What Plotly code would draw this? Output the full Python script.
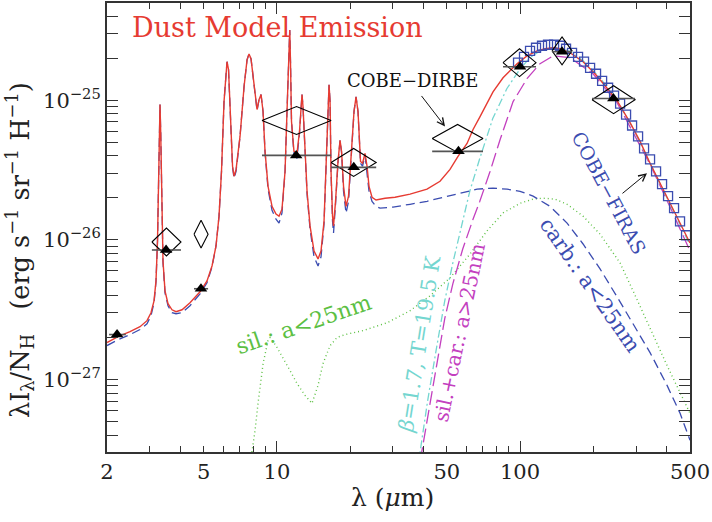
import plotly.graph_objects as go

# ---------------- data ----------------
# total dust model emission (lambda in micron, lambda*I_lambda/N_H in erg s^-1 sr^-1 H^-1)
total_lam = [2.000, 2.220, 2.487, 2.734, 2.921, 3.034, 3.122, 3.181, 3.227, 3.257, 3.282, 3.304,
             3.326, 3.351, 3.399, 3.464, 3.564, 3.702, 3.845, 4.070, 4.389, 4.827, 5.157, 5.407,
             5.616, 5.778, 5.916, 6.058, 6.174, 6.233, 6.322, 6.444, 6.568, 6.662, 6.790, 7.050,
             7.323, 7.534, 7.678, 7.825, 8.050, 8.204, 8.282, 8.440, 8.602, 8.767, 8.935, 9.192,
             9.546, 9.913, 10.20, 10.49, 10.80, 11.00, 11.11, 11.21, 11.29, 11.37, 11.48, 11.75,
             12.09, 12.38, 12.56, 12.68, 12.80, 13.05, 13.30, 13.68, 14.21, 14.76, 15.18, 15.62,
             15.92, 16.15, 16.38, 16.54, 16.69, 16.93, 17.09, 17.42, 17.83, 18.18, 18.44, 18.79,
             19.24, 19.70, 20.27, 20.75, 21.15, 21.55, 22.07, 22.49, 23.03, 23.48, 23.92, 24.61,
             25.56, 27.84, 30.60, 35.28, 41.43, 46.86, 51.51, 55.56, 60.53, 64.07, 68.45, 73.12,
             77.40, 85.11, 97.18, 106.8, 117.5, 126.7, 136.7, 146.0, 160.6, 181.6, 203.4, 223.7,
             250.6, 283.5, 311.6, 342.5, 376.6, 414.0, 455.1, 500.0]
total_val = [1.84e-27, 2.03e-27, 2.20e-27, 2.39e-27, 2.64e-27, 3.01e-27, 3.66e-27, 5.09e-27, 9.82e-27,
             2.63e-26, 5.98e-26, 9.32e-26, 5.98e-26, 2.23e-26, 7.07e-27, 4.32e-27, 3.49e-27, 3.16e-27,
             3.06e-27, 3.16e-27, 3.55e-27, 4.25e-27, 5.09e-27, 6.51e-27, 9.05e-27, 1.48e-26, 3.10e-26,
             9.79e-26, 1.74e-25, 1.89e-25, 1.66e-25, 7.05e-26, 3.37e-26, 2.86e-26, 3.20e-26, 5.51e-26,
             1.25e-25, 1.95e-25, 2.15e-25, 1.98e-25, 1.25e-25, 9.02e-26, 8.59e-26, 1.01e-25, 1.10e-25,
             8.31e-26, 4.31e-26, 2.42e-26, 1.74e-26, 1.53e-26, 1.48e-26, 1.66e-26, 3.10e-26, 8.31e-26,
             1.36e-25, 2.85e-25, 3.19e-25, 1.89e-25, 7.05e-26, 4.31e-26, 4.17e-26, 5.98e-26, 9.79e-26,
             1.10e-25, 9.02e-26, 4.31e-26, 2.23e-26, 1.26e-26, 8.33e-27, 7.31e-27, 8.33e-27, 1.36e-26,
             3.10e-26, 7.05e-26, 1.29e-25, 9.79e-26, 3.10e-26, 1.48e-26, 1.26e-26, 1.89e-26, 3.65e-26,
             5.16e-26, 4.31e-26, 2.42e-26, 1.74e-26, 2.06e-26, 4.31e-26, 8.31e-26, 1.06e-25, 8.31e-26,
             3.65e-26, 3.54e-26, 4.17e-26, 3.37e-26, 2.42e-26, 2.02e-26, 1.93e-26, 1.99e-26, 2.02e-26,
             2.13e-26, 2.31e-26, 2.63e-26, 3.20e-26, 3.97e-26, 4.91e-26, 6.18e-26, 7.65e-26, 9.47e-26,
             1.15e-25, 1.45e-25, 1.83e-25, 2.08e-25, 2.26e-25, 2.34e-25, 2.38e-25, 2.34e-25, 2.19e-25,
             1.89e-25, 1.55e-25, 1.27e-25, 9.95e-26, 6.93e-26, 5.08e-26, 3.54e-26, 2.55e-26, 1.83e-26,
             1.30e-26, 9.50e-27]

# carbonaceous grains, a < 25 nm
carb_lam = [2.000, 2.220, 2.487, 2.734, 2.921, 3.034, 3.122, 3.181, 3.227, 3.257, 3.282, 3.304,
            3.326, 3.351, 3.399, 3.464, 3.564, 3.702, 3.845, 4.070, 4.389, 4.827, 5.157, 5.407,
            5.616, 5.778, 5.916, 6.058, 6.174, 6.233, 6.322, 6.444, 6.568, 6.662, 6.790, 7.050,
            7.323, 7.534, 7.678, 7.825, 8.050, 8.204, 8.282, 8.440, 8.602, 8.767, 8.935, 9.192,
            9.546, 9.913, 10.20, 10.49, 10.80, 11.00, 11.11, 11.21, 11.29, 11.37, 11.48, 11.75,
            12.09, 12.38, 12.56, 12.68, 12.80, 13.05, 13.30, 13.68, 14.21, 14.76, 15.18, 15.62,
            15.92, 16.15, 16.38, 16.54, 16.69, 16.93, 17.09, 17.42, 17.83, 18.18, 18.44, 18.79,
            19.24, 19.70, 20.27, 20.75, 21.15, 21.55, 22.07, 22.49, 23.03, 23.48, 23.92, 24.61,
            25.56, 26.55, 30.03, 35.28, 41.43, 48.22, 56.62, 66.55, 77.40, 88.40, 100.0, 113.1,
            132.8, 156.1, 181.6, 213.3, 250.6, 291.5, 342.5, 402.4, 455.1, 500.0]
carb_val = [1.75e-27, 1.93e-27, 2.10e-27, 2.28e-27, 2.51e-27, 2.87e-27, 3.55e-27, 5.01e-27, 9.82e-27,
            2.63e-26, 5.98e-26, 9.32e-26, 5.98e-26, 2.23e-26, 6.84e-27, 4.18e-27, 3.38e-27, 3.01e-27,
            2.96e-27, 3.01e-27, 3.38e-27, 4.11e-27, 4.93e-27, 6.41e-27, 9.05e-27, 1.48e-26, 3.10e-26,
            9.79e-26, 1.74e-25, 1.89e-25, 1.66e-25, 7.05e-26, 3.31e-26, 2.76e-26, 3.10e-26, 5.51e-26,
            1.25e-25, 1.95e-25, 2.15e-25, 1.98e-25, 1.25e-25, 8.84e-26, 8.44e-26, 1.01e-25, 1.10e-25,
            8.31e-26, 4.24e-26, 2.31e-26, 1.63e-26, 1.41e-26, 1.32e-26, 1.56e-26, 3.10e-26, 8.31e-26,
            1.36e-25, 2.85e-25, 3.19e-25, 1.89e-25, 7.05e-26, 4.10e-26, 3.84e-26, 5.80e-26, 9.79e-26,
            1.10e-25, 9.02e-26, 4.24e-26, 2.13e-26, 1.20e-26, 7.55e-27, 6.51e-27, 7.55e-27, 1.30e-26,
            3.05e-26, 7.05e-26, 1.29e-25, 9.79e-26, 3.05e-26, 1.36e-26, 1.12e-26, 1.80e-26, 3.59e-26,
            5.16e-26, 4.24e-26, 2.23e-26, 1.55e-26, 1.89e-26, 4.17e-26, 8.31e-26, 1.06e-25, 8.31e-26,
            3.54e-26, 3.37e-26, 4.03e-26, 3.10e-26, 2.23e-26, 1.89e-26, 1.74e-26, 1.69e-26, 1.72e-26,
            1.80e-26, 1.89e-26, 2.02e-26, 2.16e-26, 2.31e-26, 2.35e-26, 2.31e-26, 2.23e-26, 2.06e-26,
            1.74e-26, 1.32e-26, 9.35e-27, 6.20e-27, 3.91e-27, 2.51e-27, 1.56e-27, 9.08e-28, 5.73e-28,
            3.68e-28]

# silicate grains, a < 25 nm
sil_lam = [7.60, 7.90, 8.13, 8.36, 8.77, 9.19, 9.37, 9.91, 10.59, 11.32, 12.09, 13.05, 13.94,
           14.76, 15.47, 16.54, 17.67, 19.06, 22.60, 28.37, 35.28, 42.63, 51.51, 62.3, 73.1,
           85.1, 100.0, 113.1, 124.3, 139.3, 156.1, 181.6, 213.3, 257.9, 291.5, 342.5, 402.4, 500.0]
sil_val = [1.91e-28, 3.02e-28, 4.34e-28, 6.75e-28, 1.30e-27, 1.90e-27, 2.00e-27, 1.75e-27, 1.44e-27,
           1.16e-27, 9.38e-28, 7.70e-28, 6.75e-28, 9.08e-28, 1.30e-27, 1.75e-27, 2.00e-27, 2.10e-27,
           2.24e-27, 2.55e-27, 3.11e-27, 3.98e-27, 5.35e-27, 7.93e-27, 1.16e-26, 1.56e-26, 1.83e-26,
           1.96e-26, 1.99e-26, 1.96e-26, 1.80e-26, 1.48e-26, 1.10e-26, 6.84e-27, 4.32e-27, 2.31e-27,
           1.26e-27, 5.73e-28]

# modified blackbody, beta = 1.7, T = 19.5 K
mbb_lam = [37.3, 38.7, 41.7, 45.5, 49.0, 52.9, 58.1, 62.1, 68.3, 77.2, 88.2, 100.0, 109.9, 120.8,
           132.8, 146.0, 160.6, 181.6, 213.3, 250.6, 291.5, 342.5, 414.0, 500.0]
mbb_val = [1.91e-28, 3.02e-28, 7.10e-28, 1.75e-27, 3.66e-27, 6.84e-27, 1.41e-26, 2.23e-26, 3.84e-26,
           7.40e-26, 1.21e-25, 1.68e-25, 2.02e-25, 2.26e-25, 2.38e-25, 2.38e-25, 2.23e-25, 1.92e-25,
           1.45e-25, 9.95e-26, 6.28e-26, 3.54e-26, 1.77e-26, 9.20e-27]

# silicate + carbonaceous grains, a > 25 nm
big_lam = [38.0, 39.4, 42.5, 45.5, 49.0, 52.9, 58.1, 64.1, 68.3, 75.3, 82.8, 93.6, 106.8, 120.8,
           136.7, 160.6, 199.6, 250.6, 342.5, 414.0, 500.0]
big_val = [1.91e-28, 3.02e-28, 6.53e-28, 1.32e-27, 2.73e-27, 4.85e-27, 8.61e-27, 1.41e-26, 1.89e-26,
           3.10e-26, 5.24e-26, 9.79e-26, 1.43e-25, 1.83e-25, 2.08e-25, 2.02e-25, 1.55e-25, 9.63e-26,
           3.48e-26, 1.72e-26, 8.33e-27]

# COBE-FIRAS spectrum
firas_lam = [98.1, 103.8, 109.9, 116.3, 123.1, 130.3, 138.0, 146.0, 154.6, 163.6, 173.2, 183.3,
             194.1, 205.4, 217.5, 230.2, 243.6, 257.9, 272.9, 288.9, 305.8, 323.6, 342.5, 362.6,
             383.7, 406.2, 429.9, 455.0, 481.7]
firas_val = [1.86e-25, 2.05e-25, 2.26e-25, 2.38e-25, 2.46e-25, 2.50e-25, 2.50e-25, 2.46e-25, 2.34e-25,
             2.19e-25, 2.05e-25, 1.89e-25, 1.71e-25, 1.55e-25, 1.38e-25, 1.23e-25, 1.08e-25, 9.47e-26,
             7.91e-26, 6.60e-26, 5.51e-26, 4.52e-26, 3.78e-26, 3.10e-26, 2.51e-26, 2.06e-26, 1.69e-26,
             1.36e-26, 1.08e-26]

# COBE-DIRBE photometry: band centre, band edges, observed value, band-averaged model
dirbe_lam = [2.2, 3.5, 4.87, 12.0, 20.7, 55.8, 100.0, 148.8, 242.0]
dirbe_lo = [2.04, 3.06, 4.56, 8.68, 16.7, 43.5, 85.1, 135.4, 197.8]
dirbe_hi = [2.39, 4.03, 5.21, 16.7, 25.6, 70.4, 116.3, 163.6, 297.2]
dirbe_obs = [2.10e-27, 8.47e-27, 4.47e-27, 4.03e-26, 3.31e-26, 4.31e-26, 1.74e-25, 2.23e-25, 1.03e-25]
dirbe_model = [None, 9.66e-27, 1.10e-26, 7.16e-26, 3.59e-26, 5.33e-26, 1.86e-25, 2.26e-25, 1.01e-25]

# tick labels
x_ticks = [2, 5, 10, 50, 100, 500]
x_ticktext = ["2", "5", "10", "50", "100", "500"]
y_ticks = [1e-27, 1e-26, 1e-25]
y_ticktext = ["10<sup>\u221227</sup>", "10<sup>\u221226</sup>", "10<sup>\u221225</sup>"]

# ---------------- styling ----------------
FONT = "DejaVu Serif"
RED = "#e63b32"
BLUE = "#3b4cb0"
CYAN = "#74d6d0"
MAGENTA = "#c340bf"
GREEN = "#5cc043"
AXIS = "#333333"
DIAMOND_HALF_DEX = 0.1   # half-height of the band-model diamonds (dex)

fig = go.Figure()

fig.add_trace(go.Scatter(x=sil_lam, y=sil_val, mode="lines",
                         line=dict(color=GREEN, width=1.4, dash="1px,3px")))
fig.add_trace(go.Scatter(x=big_lam, y=big_val, mode="lines",
                         line=dict(color=MAGENTA, width=1.3, dash="14px,5px")))
fig.add_trace(go.Scatter(x=mbb_lam, y=mbb_val, mode="lines",
                         line=dict(color=CYAN, width=1.3, dash="8px,3px,2px,3px")))
fig.add_trace(go.Scatter(x=carb_lam, y=carb_val, mode="lines",
                         line=dict(color=BLUE, width=1.3, dash="9px,5px")))
fig.add_trace(go.Scatter(x=total_lam, y=total_val, mode="lines",
                         line=dict(color=RED, width=1.4)))

fig.add_trace(go.Scatter(x=firas_lam, y=firas_val, mode="markers",
                         marker=dict(symbol="square-open", size=9, color=BLUE,
                                     line=dict(width=1.3, color=BLUE))))

# band-averaged model values drawn as diamonds spanning each DIRBE band
dx, dy = [], []
f = 10 ** DIAMOND_HALF_DEX
for lo, hi, m in zip(dirbe_lo, dirbe_hi, dirbe_model):
    if m is None:
        continue
    c = (lo * hi) ** 0.5
    dx += [lo, c, hi, c, lo, None]
    dy += [m, m * f, m, m / f, m, None]
fig.add_trace(go.Scatter(x=dx, y=dy, mode="lines", line=dict(color="black", width=1.1)))

fig.add_trace(go.Scatter(
    x=dirbe_lam, y=dirbe_obs, mode="markers",
    marker=dict(symbol="triangle-up", size=11, color="black"),
    error_x=dict(type="data", symmetric=False,
                 array=[h - c for h, c in zip(dirbe_hi, dirbe_lam)],
                 arrayminus=[c - l for l, c in zip(dirbe_lo, dirbe_lam)],
                 color="#555555", thickness=1.6, width=0)))

# overlay axis carrying the long decade ticks at 10 and 100 micron
fig.add_trace(go.Scatter(x=[], y=[], xaxis="x2", yaxis="y", showlegend=False))

minor_x = [v * 10 ** e for e in range(0, 3) for v in range(2, 10)]
minor_x = [v for v in minor_x if 2 <= v <= 500 and v not in x_ticks]
minor_y = [v * 10.0 ** e for e in range(-28, -24) for v in range(2, 10)]

axis_common = dict(showgrid=False, zeroline=False, showline=True, linecolor=AXIS, linewidth=2,
                   mirror="allticks", ticks="inside", tickcolor=AXIS, tickwidth=1.4)

fig.update_layout(
    width=712, height=522,
    margin=dict(l=107, r=22, t=1, b=70),
    paper_bgcolor="white", plot_bgcolor="white",
    showlegend=False,
    font=dict(family=FONT, color="black"),
    xaxis=dict(type="log", range=[0.30103, 2.69897], tickmode="array",
               tickvals=x_ticks, ticktext=x_ticktext, ticklen=6,
               tickfont=dict(family=FONT, size=21, color="#222"),
               minor=dict(tickmode="array", tickvals=minor_x, ticks="inside", ticklen=6,
                          tickcolor=AXIS, tickwidth=1.2),
               **axis_common),
    xaxis2=dict(type="log", range=[0.30103, 2.69897], overlaying="x", anchor="y", side="bottom",
                tickmode="array", tickvals=[10, 100], showticklabels=False, ticks="inside",
                ticklen=11, tickwidth=1.4, tickcolor=AXIS, mirror="allticks",
                showline=False, showgrid=False, zeroline=False),
    yaxis=dict(type="log", range=[-27.519, -24.303], tickmode="array",
               tickvals=y_ticks, ticktext=y_ticktext, ticklen=11,
               tickfont=dict(family=FONT, size=21, color="#222"),
               minor=dict(tickmode="array", tickvals=minor_y, ticks="inside", ticklen=6,
                          tickcolor=AXIS, tickwidth=1.2),
               **axis_common),
)

def label(text, x, y, color, size=19, angle=0):
    fig.add_annotation(text=text, x=x, y=y, xref="paper", yref="paper", showarrow=False,
                       textangle=angle, xanchor="center", yanchor="middle",
                       font=dict(family=FONT, size=size, color=color))

label("Dust Model Emission", 0.2916, 0.9446, RED, size=27)
label("COBE\u2212DIRBE", 0.5232, 0.8271, "#111", size=18)
label("COBE\u2212FIRAS", 0.861, 0.5765, BLUE, size=19, angle=62)
label("carb.: a&lt;25nm", 0.8285, 0.3725, BLUE, size=21, angle=55)
label("sil.: a&lt;25nm", 0.3362, 0.2840, GREEN, size=22, angle=-19)
label("<i>\u03b2</i>=1.7, T=19.5 K", 0.5369, 0.2395, CYAN, size=21, angle=-81)
label("sil.+car.: a&gt;25nm", 0.6038, 0.2661, MAGENTA, size=20, angle=-78)

label("\u03bbI<sub>\u03bb</sub>/N<sub>H</sub>\u00a0\u00a0\u00a0(erg s<sup>\u22121</sup> sr<sup>\u22121</sup> H<sup>\u22121</sup>)",
      -0.1492, 0.45, "#222", size=25.5, angle=-90)
label("\u03bb (<i>\u03bc</i>m)", 0.4889, -0.102, "#222", size=25)

# pointer arrows
for hx, hy, ax, ay in [(0.5798, 0.7251, -27, -35), (0.9262, 0.6208, -28, 23)]:
    fig.add_annotation(text=" ", x=hx, y=hy, xref="paper", yref="paper", showarrow=True,
                       ax=ax, ay=ay, arrowhead=5, arrowsize=1.4, arrowwidth=1, arrowcolor="#111",
                       standoff=0, startstandoff=0)

fig.write_html("out.html")
